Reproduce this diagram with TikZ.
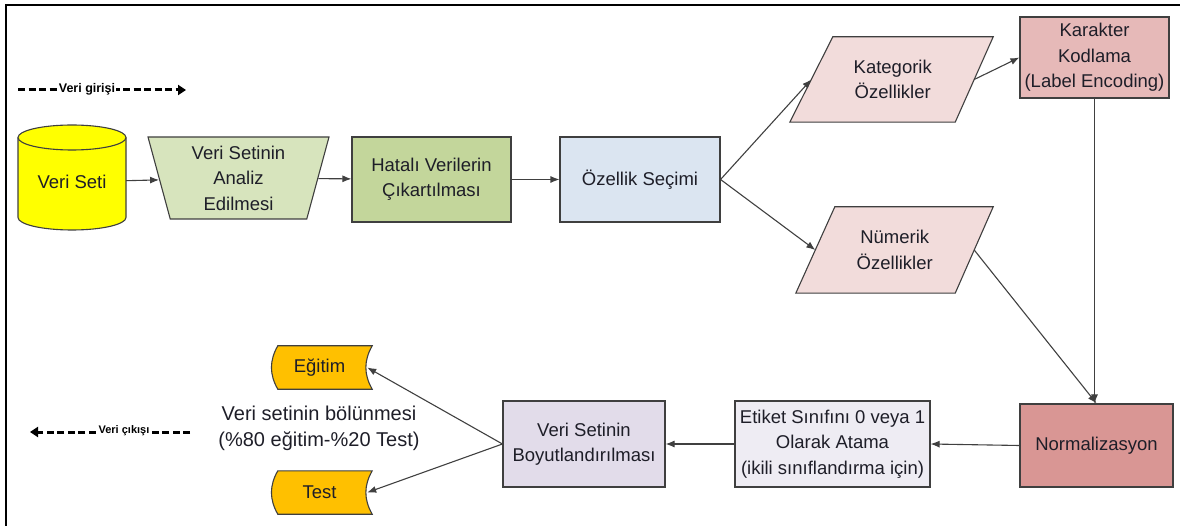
\documentclass[tikz,border=0pt]{standalone}
\usepackage{fontspec}
\setmainfont{Liberation Sans}
\usetikzlibrary{arrows.meta,shapes.geometric,shadows,backgrounds}

\definecolor{linec}{HTML}{3F3F3F}
\definecolor{arrc}{HTML}{404040}
\definecolor{cylc}{HTML}{FFFF00}
\definecolor{anac}{HTML}{D7E4BD}
\definecolor{hatc}{HTML}{C3D69B}
\definecolor{ozsc}{HTML}{DBE5F1}
\definecolor{katc}{HTML}{F2DCDB}
\definecolor{karc}{HTML}{E6B9B8}
\definecolor{normc}{HTML}{D99694}
\definecolor{etic}{HTML}{EEECF3}
\definecolor{boyc}{HTML}{E2DCEA}
\definecolor{orc}{HTML}{FFC000}
\definecolor{txtc}{HTML}{1E1E28}

\tikzset{
  lbl/.style={font=\fontsize{18.5}{25.5}\selectfont, text=txtc, align=center, inner sep=0pt},
  box/.style={lbl, draw=linec, line width=1.1pt},
  shd/.style={drop shadow={shadow xshift=1.3pt, shadow yshift=-1.3pt, fill=black!55, opacity=0.7}},
  rectbox/.style={box, rectangle, shd},
  para/.style={box, trapezium, trapezium stretches body},
  outline/.style={draw=linec, line width=1.1pt},
  flow/.style={draw=arrc, line width=1.1pt, -{Latex[length=9pt,width=7pt]}},
  dashline/.style={draw=black, line width=3pt, dash pattern=on 7pt off 3.5pt},
  tag/.style={fill=white, inner sep=1pt, text=black},
}

\begin{document}
\begin{tikzpicture}[x=1pt,y=-1pt]
\useasboundingbox (0,0) rectangle (1180,526);

% outer frame (top and left edges)
\draw[line width=2.2pt] (6,526) -- (6,5) -- (1180,5);

% data source cylinder
\node[lbl, minimum width=108, minimum height=92] (vs) at (72,182) {Veri Seti};
\begin{scope}[on background layer]
  \fill[cylc] (18pt,-137.5pt) -- (18pt,-217.5pt)
     arc[start angle=180, end angle=360, x radius=54pt, y radius=12.5pt]
     -- (126pt,-137.5pt) -- cycle;
  \draw[outline] (18pt,-137.5pt) -- (18pt,-217.5pt)
     arc[start angle=180, end angle=360, x radius=54pt, y radius=12.5pt]
     -- (126pt,-137.5pt);
  \draw[outline, fill=cylc] (72pt,-137.5pt) ellipse[x radius=54pt, y radius=12.5pt];
\end{scope}

% top row
\node[para, shape border rotate=180, trapezium left angle=71, trapezium right angle=71,
      minimum width=181, minimum height=82, fill=anac] (ana) at (238.5,178) {Veri Setinin\\Analiz\\Edilmesi};
\node[rectbox, minimum width=159, minimum height=85, fill=hatc] (hat) at (431.5,179.5) {Hatalı Verilerin\\Çıkartılması};
\node[rectbox, minimum width=160, minimum height=85, fill=ozsc] (ozs) at (640,179.5) {Özellik Seçimi};

% feature branches: the node box spans the mid points of the slanted sides
\node[lbl, minimum width=162.5, minimum height=85] (kat) at (892.75,79.5) {Kategorik\\Özellikler};
\node[lbl, minimum width=158.5, minimum height=86] (num) at (894.75,250) {Nümerik\\Özellikler};
\begin{scope}[on background layer]
  \draw[outline, fill=katc]
    ([xshift=-21.5pt]kat.south west) -- ([xshift=21.5pt]kat.north west)
    -- ([xshift=19pt]kat.north east) -- ([xshift=-19pt]kat.south east) -- cycle;
  \draw[outline, fill=katc]
    ([xshift=-19.5pt]num.south west) -- ([xshift=19.5pt]num.north west)
    -- ([xshift=19pt]num.north east) -- ([xshift=-19pt]num.south east) -- cycle;
\end{scope}
\node[rectbox, minimum width=149, minimum height=81, fill=karc] (kar) at (1094.5,57.5) {Karakter\\Kodlama\\(Label Encoding)};

% bottom row
\node[rectbox, minimum width=153, minimum height=83, fill=normc] (norm) at (1096.5,445.5) {Normalizasyon};
\node[rectbox, minimum width=195, minimum height=86, fill=etic] (eti) at (832.5,444) {Etiket Sınıfını  0 veya 1\\Olarak Atama\\(ikili sınıflandırma için)};
\node[rectbox, minimum width=162, minimum height=86, fill=boyc] (boy) at (584,444) {Veri Setinin\\Boyutlandırılması};

% split outputs
\node[lbl, minimum width=95, minimum height=43] (egt) at (319.5,367.5) {Eğitim};
\node[lbl, minimum width=95, minimum height=43] (tst) at (319.5,492.5) {Test};
\begin{scope}[on background layer]
  \foreach \n in {egt,tst}{
    \draw[outline, fill=orc]
      ([xshift=6pt]\n.north west) to[bend right=30] ([xshift=6pt]\n.south west)
      -- ([xshift=5pt]\n.south east) to[bend left=30] ([xshift=5pt]\n.north east) -- cycle;
  }
\end{scope}
\node[lbl, font=\fontsize{20}{26}\selectfont] (bol) at (319,428) {Veri setinin bölünmesi\\(\%80 eğitim-\%20 Test)};

% input / output legends
\coordinate (gin0) at (18,90);
\coordinate (gin1) at (186,90);
\draw[dashline, -{Triangle[length=8pt,width=10pt]}] (gin0) -- (gin1);
\node[tag, font=\fontsize{12.5}{14}\bfseries] (ginl) at (87,89) {Veri girişi};

\coordinate (gout0) at (190,432);
\coordinate (gout1) at (30,432);
\draw[dashline, -{Triangle[length=8pt,width=10pt]}] (gout0) -- (gout1);
\node[tag, font=\fontsize{11}{13}\bfseries] (goutl) at (124,431) {Veri çıkışı};

% connectors
\draw[flow] (vs) -- (ana);
\draw[flow] (ana) -- (hat);
\draw[flow] (hat) -- (ozs);
\draw[flow] (ozs.east) -- (kat.west);
\draw[flow] (ozs.east) -- (num.west);
\draw[flow] (kat.east) -- (kar.west);
\draw[flow] (kar.south) -- (kar.south |- norm.north);
\draw[flow] (num.east) -- (norm.north);
\draw[flow] (norm.west) -- (eti.east);
\draw[flow] (eti.west) -- (boy.east);
\draw[flow] (boy.west) -- (egt.east);
\draw[flow] (boy.west) -- (tst.east);
\end{tikzpicture}
\end{document}
